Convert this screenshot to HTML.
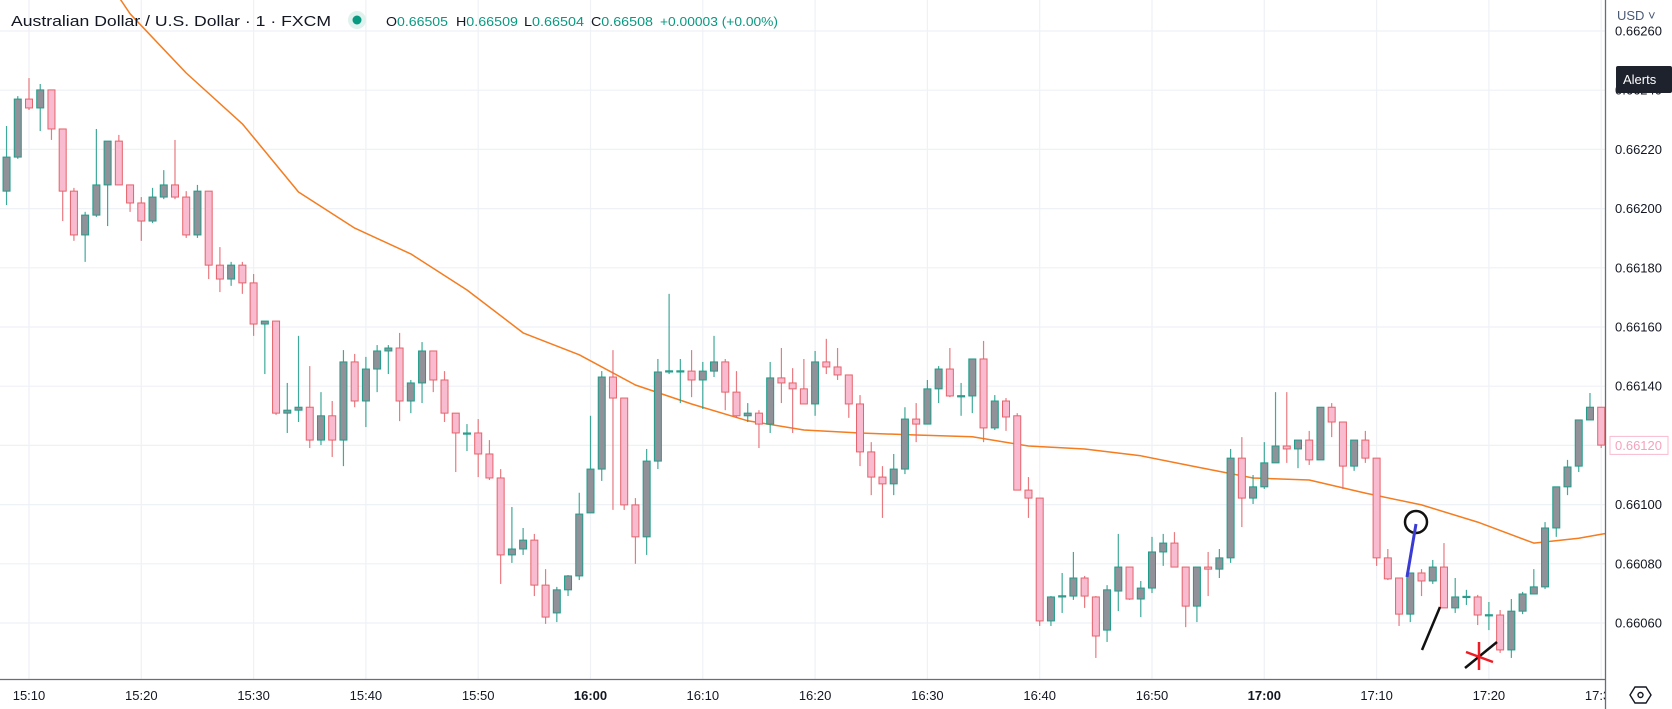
<!DOCTYPE html>
<html><head><meta charset="utf-8"><style>
html,body{margin:0;padding:0;background:#fff;}
svg{display:block;font-family:"Liberation Sans",sans-serif;}
</style></head><body>
<svg id="chart" width="1672" height="709" viewBox="0 0 1672 709" xmlns="http://www.w3.org/2000/svg">
<g id="grid"></g>
<g id="ma"></g>
<g id="candles"></g>
<g id="drawings">
  <circle cx="1416" cy="522" r="11" fill="none" stroke="#111" stroke-width="2.5"/>
  <line x1="1416" y1="524" x2="1407" y2="577" stroke="#3a3ad4" stroke-width="3"/>
  <line x1="1440" y1="607" x2="1422" y2="650" stroke="#111" stroke-width="2.5"/>
  <line x1="1497" y1="642" x2="1465" y2="668" stroke="#111" stroke-width="2.5"/>
  <line x1="1479" y1="642" x2="1479" y2="670" stroke="#ee1c24" stroke-width="2.5"/>
  <line x1="1466" y1="652" x2="1493" y2="662" stroke="#ee1c24" stroke-width="2.5"/>
</g>
<g id="header">
  <text x="11" y="26" font-size="15" fill="#131722" textLength="320" lengthAdjust="spacingAndGlyphs">Australian Dollar / U.S. Dollar · 1 · FXCM</text>
  <circle cx="357" cy="20" r="9" fill="#dff2ee"/>
  <circle cx="357" cy="20" r="4.5" fill="#089981"/>
  <text x="386" y="26" font-size="13" fill="#089981" textLength="62" lengthAdjust="spacingAndGlyphs"><tspan fill="#131722">O</tspan>0.66505</text>
  <text x="456" y="26" font-size="13" fill="#089981" textLength="62" lengthAdjust="spacingAndGlyphs"><tspan fill="#131722">H</tspan>0.66509</text>
  <text x="524" y="26" font-size="13" fill="#089981" textLength="60" lengthAdjust="spacingAndGlyphs"><tspan fill="#131722">L</tspan>0.66504</text>
  <text x="591" y="26" font-size="13" fill="#089981" textLength="62" lengthAdjust="spacingAndGlyphs"><tspan fill="#131722">C</tspan>0.66508</text>
  <text x="660" y="26" font-size="13" fill="#089981" textLength="118" lengthAdjust="spacingAndGlyphs">+0.00003 (+0.00%)</text>
</g>
<g id="yaxis"></g>
<g id="xaxis"></g>
</svg>
<script>
// prices stored in points (0.00001) above 0.66000
const BASE = 0.66;
const startTime = "15:08";
const opens = [205.9,217.4,237.0,234.0,240.1,226.9,205.9,191.1,197.8,208.0,
222.8,208.0,201.9,195.8,203.9,208.0,203.9,191.1,205.9,180.9,
176.2,180.9,174.9,161.0,162.0,130.9,131.9,132.9,121.8,130.0,
121.8,148.2,135.0,145.8,151.9,152.9,135.0,141.1,151.9,142.1,
130.9,124.0,124.2,117.1,109.0,83.0,85.0,88.0,72.8,63.4,
71.2,75.9,97.2,112.0,143.1,136.0,99.9,89.1,114.7,145.0,
145.1,145.1,142.1,145.1,148.2,138.0,130.0,130.9,127.2,142.8,
141.1,139.1,134.0,148.2,146.5,143.8,134.0,117.8,109.3,107.0,
112.0,128.9,127.2,139.1,145.8,136.7,136.7,149.2,125.9,135.0,
130.0,104.9,102.2,60.7,69.1,69.1,75.2,68.8,57.6,70.8,
78.9,68.1,71.8,84.0,87.0,78.9,65.7,78.9,78.2,82.0,
115.7,102.2,106.0,114.1,119.8,118.8,121.8,115.1,132.9,127.9,
113.0,121.8,115.7,82.0,75.2,63.0,76.9,74.2,78.9,65.1,
68.8,68.8,62.7,62.7,50.9,64.0,69.8,72.2,92.1,106.0,
113.0,128.6,132.9];
const highs = [227.9,238.0,244.1,242.1,240.1,226.9,207.0,198.9,226.9,222.8,
224.9,208.0,203.9,207.0,213.0,223.2,205.9,208.0,205.9,187.0,
182.0,182.0,177.9,162.0,162.0,141.1,157.0,146.8,138.0,135.0,
152.2,150.9,149.9,153.9,153.9,158.0,142.1,154.9,151.9,145.1,
130.9,127.2,128.9,121.8,112.0,99.2,92.1,90.1,78.2,72.2,
76.2,104.0,130.0,145.1,152.2,136.0,102.2,118.8,149.2,171.2,
149.2,152.2,148.2,157.0,149.2,145.1,134.3,131.9,148.2,152.9,
146.1,149.2,151.9,156.0,152.9,143.8,137.0,121.1,113.0,117.1,
132.9,134.3,142.1,146.8,152.9,141.1,149.2,155.3,137.0,136.0,
130.9,109.3,102.2,69.1,76.9,84.0,75.9,69.1,72.8,90.1,
78.9,74.2,89.1,90.1,90.7,78.9,78.9,84.0,85.0,118.8,
122.8,110.0,121.1,138.0,138.0,121.8,124.9,132.9,134.3,127.9,
121.8,124.9,115.7,85.0,75.2,76.9,78.2,81.3,87.0,75.2,
71.2,69.5,67.1,64.4,68.1,70.5,78.2,94.1,106.0,115.1,
128.6,137.7,132.9];
const lows = [201.2,216.8,233.3,226.2,223.2,195.8,189.1,182.0,197.2,194.1,
208.0,198.9,189.1,195.1,203.2,203.2,190.1,190.1,176.2,171.8,
173.9,171.2,157.0,144.1,130.3,124.2,127.9,119.1,120.1,116.1,
113.0,132.9,126.2,138.0,144.1,128.2,130.9,134.3,138.0,127.9,
111.0,118.1,109.3,108.3,73.2,80.3,83.0,69.1,59.7,60.3,
69.1,74.5,97.2,108.0,98.2,98.2,80.0,83.0,112.0,144.1,
134.3,136.3,132.3,143.1,131.9,129.3,127.9,119.1,124.2,134.3,
124.2,134.0,130.0,144.1,142.1,129.3,113.0,103.2,95.5,103.2,
110.3,121.1,127.2,134.3,136.3,130.0,130.9,121.1,125.2,124.9,
104.9,95.5,59.0,59.0,63.4,67.8,65.1,48.2,53.6,64.0,
67.8,62.0,70.1,79.3,78.9,58.6,60.3,69.1,75.2,80.3,
92.4,100.2,105.3,114.1,114.1,112.3,113.4,115.1,122.8,105.3,
111.4,114.1,79.3,74.5,59.0,60.3,69.1,73.2,65.1,63.4,
66.1,59.3,57.6,49.9,48.2,63.0,69.8,71.5,89.1,103.2,
111.0,128.6,119.1];
const closes = [217.4,237.0,234.0,240.1,226.9,205.9,191.1,197.8,208.0,222.8,
208.0,201.9,195.8,203.9,208.0,203.9,191.1,205.9,180.9,176.2,
180.9,174.9,161.0,162.0,130.9,131.9,132.9,121.8,130.0,121.8,
148.2,135.0,145.8,151.9,152.9,135.0,141.1,151.9,142.1,130.9,
124.2,124.2,117.1,109.0,83.0,85.0,88.0,72.8,62.0,71.2,
75.9,96.8,112.0,143.1,136.0,99.9,89.1,114.7,144.8,145.2,
145.2,142.1,145.1,148.2,138.0,130.0,130.9,127.2,142.8,141.1,
139.1,134.0,148.2,146.5,143.8,134.0,117.8,109.3,107.0,112.0,
128.9,127.2,139.1,145.8,136.7,136.8,149.2,125.9,135.0,129.6,
104.9,102.2,60.7,68.8,69.2,75.2,69.1,55.6,71.2,78.9,
68.1,71.8,84.0,87.0,78.9,65.7,78.9,78.2,82.0,115.7,
102.2,106.0,114.1,119.8,118.8,121.8,115.1,132.9,127.9,113.0,
121.8,115.7,82.0,74.9,63.0,76.9,74.2,78.9,65.1,68.8,
69.0,62.7,62.8,50.9,64.0,69.8,72.2,92.1,106.0,112.7,
128.6,132.9,120.1];
// moving average samples: candle index (0-based) and value in points
const maIndex = [6,11,16,21,26,31,36,41,46,51,56,61,66,71,76,81,86,91,96,101,106,111,116,121,126,131,136,140,142,143];
const maValues = [294,265.8,245.8,228.6,205.6,193.4,184.7,172.5,158.0,150.6,140.4,134.0,128.3,125.2,124.2,123.5,122.9,119.8,118.8,116.5,112.7,109.0,108.3,103.9,99.9,94.1,87.0,88.6,90.0,90.6];
const priceTicks = [0.66260,0.66240,0.66220,0.66200,0.66180,0.66160,0.66140,0.66120,0.66100,0.66080,0.66060];
const timeTicks = ["15:10","15:20","15:30","15:40","15:50","16:00","16:10","16:20","16:30","16:40","16:50","17:00","17:10","17:20","17:30"];
const lastPrice = 0.66120;

const NS = "http://www.w3.org/2000/svg";
const PLOT_R = 1605, AXIS_Y = 679;
function yScale(p){ return 445.4 - (p - 0.6612) * 296000; }
function yPts(v){ return yScale(BASE + v * 1e-5); }
function xIdx(i){ return 29 + (i - 2) * 11.23; }
function mk(tag, attrs, parent){ const e = document.createElementNS(NS, tag); for (const k in attrs) e.setAttribute(k, attrs[k]); parent.appendChild(e); return e; }
function minutesOf(t){ const [h,m] = t.split(":").map(Number); return h*60+m; }

const grid = document.getElementById("grid");
priceTicks.forEach(p => {
  const y = yScale(p);
  const l = mk("line", {x1:0, x2:PLOT_R, y1:y, y2:y, stroke:"#eef1f6", "stroke-width":1.2}, grid);
  
  
});
const startMin = minutesOf(startTime);
timeTicks.forEach(t => {
  const x = xIdx(minutesOf(t) - startMin);
  const l = mk("line", {x1:x, x2:x, y1:0, y2:AXIS_Y, stroke:"#eef1f6", "stroke-width":1.2}, grid);
  
  
});

// moving average
const maG = document.getElementById("ma");
const clip = mk("clipPath", {id:"plotclip"}, maG);
mk("rect", {x:0, y:0, width:PLOT_R, height:AXIS_Y}, clip);
let d = "";
maIndex.forEach((i, k) => { d += (k ? "L" : "M") + xIdx(i).toFixed(1) + " " + yPts(maValues[k]).toFixed(1); });
const maPath = mk("path", {d:d, fill:"none", stroke:"#f57c1f", "stroke-width":1.5, "stroke-linejoin":"round", "clip-path":"url(#plotclip)"}, maG);



// candles
const cg = document.getElementById("candles");
opens.forEach((o, i) => {
  const c = closes[i], h = highs[i], l = lows[i];
  const up = c >= o;
  const x = xIdx(i);
  const stroke = up ? "#1f9c89" : "#e5636b";
  const g = mk("g", {}, cg);
  
  
  mk("line", {x1:x, x2:x, y1:yPts(h), y2:yPts(l), stroke:stroke, "stroke-width":1.2, opacity:0.85}, g);
  const top = yPts(Math.max(o, c)), bot = yPts(Math.min(o, c));
  const hgt = Math.max(1.2, bot - top);
  mk("rect", {x:x-3.5, y:top, width:7, height:hgt, fill: up ? "#909199" : "#f8bbd0", stroke:stroke, "stroke-width":1}, g);
});

// price axis
const ya = document.getElementById("yaxis");
priceTicks.forEach(p => {
  const t = mk("text", {x:1615, y:yScale(p)+4.5, "font-size":13, fill:"#131722"}, ya);
  t.textContent = p.toFixed(5);
  
  
});
const lastY = yScale(lastPrice);
const lb = mk("rect", {x:1610, y:lastY-9, width:58, height:18, fill:"#fff", stroke:"#f8bbd0", "stroke-width":1}, ya);


const lt = mk("text", {x:1615, y:lastY+4.5, "font-size":13, fill:"#f4a3bb"}, ya);
lt.textContent = lastPrice.toFixed(5);


const cover = mk("rect", {x:1606, y:0, width:66, height:25, fill:"#fff"}, ya);


const usd = mk("text", {x:1617, y:20, "font-size":13, fill:"#4a5a75"}, ya);
usd.textContent = "USD ˅";


const ab = mk("rect", {x:1616, y:66, width:56, height:27, rx:2, fill:"#1e222d"}, ya);


const at = mk("text", {x:1623, y:84, "font-size":13, fill:"#fff"}, ya);
at.textContent = "Alerts";


const div = mk("line", {x1:PLOT_R+0.5, x2:PLOT_R+0.5, y1:0, y2:709, stroke:"#6a6d78", "stroke-width":1.3}, ya);



// time axis
const xa = document.getElementById("xaxis");
const axl = mk("line", {x1:0, x2:PLOT_R, y1:AXIS_Y+0.5, y2:AXIS_Y+0.5, stroke:"#6a6d78", "stroke-width":1.3}, xa);


const tclip = mk("clipPath", {id:"timeclip"}, xa);
mk("rect", {x:0, y:AXIS_Y, width:PLOT_R, height:30}, tclip);
timeTicks.forEach(t => {
  const x = xIdx(minutesOf(t) - startMin);
  const bold = t.endsWith(":00");
  const e = mk("text", {x:x, y:700, "font-size":13, fill:"#131722", "text-anchor":"middle", "font-weight": bold ? "bold" : "normal", "clip-path":"url(#timeclip)"}, xa);
  e.textContent = t;
  
  
});
const eye = mk("g", {}, xa);


mk("path", {d:"M1630 695 L1635 687 L1646 687 L1651 695 L1646 703 L1635 703 Z", fill:"none", stroke:"#131722", "stroke-width":1.4}, eye);
mk("circle", {cx:1640.5, cy:695, r:2.5, fill:"none", stroke:"#131722", "stroke-width":1.4}, eye);
</script>
</body></html>
